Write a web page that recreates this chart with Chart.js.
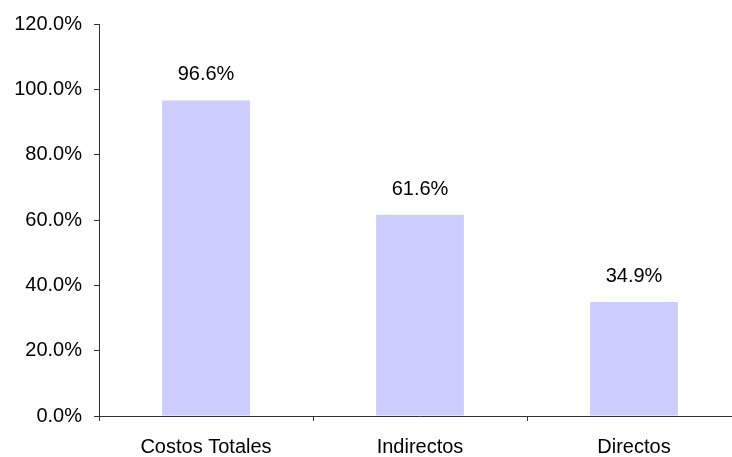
<!DOCTYPE html>
<html>
<head>
<meta charset="utf-8">
<script src="https://cdn.jsdelivr.net/npm/chart.js@4"></script>
<style>
  body { margin: 0; background: #fff; overflow: hidden; }
  #wrap { width: 741px; height: 457px; }
</style>
</head>
<body>
<div id="wrap"><canvas id="costs-chart"></canvas></div>
<script>
const categories = ['Costos Totales', 'Indirectos', 'Directos'];
const percentages = [96.6, 61.6, 34.9];

const barColor = '#CCCCFF';
const axisColor = '#333333';
const fontFamily = "'Liberation Sans', Arial, sans-serif";
const fontSize = 20;

const fmt = (v) => v.toFixed(1) + '%';

// writes each bar's value above it
const valueLabels = {
    id: 'valueLabels',
    afterDatasetsDraw(chart) {
        const ctx = chart.ctx;
        const meta = chart.getDatasetMeta(0);
        ctx.save();
        ctx.font = fontSize + 'px ' + fontFamily;
        ctx.fillStyle = '#000';
        ctx.textAlign = 'center';
        ctx.textBaseline = 'alphabetic';
        meta.data.forEach((bar, i) => {
            ctx.fillText(fmt(percentages[i]), bar.x, bar.y - 20);
        });
        ctx.restore();
    }
};

const context = document.getElementById('costs-chart').getContext('2d');

const chart = new Chart(context, {
    type: 'bar',
    data: {
        labels: categories,
        datasets: [{
            data: percentages,
            backgroundColor: barColor,
            borderWidth: 0,
            categoryPercentage: 0.41,
            barPercentage: 1
        }]
    },
    options: {
        responsive: true,
        maintainAspectRatio: false,
        animation: false,
        layout: { padding: { top: 12, right: 0, left: 0, bottom: 0 } },
        plugins: {
            legend: { display: false },
            tooltip: { enabled: false }
        },
        scales: {
            x: {
                offset: true,
                grid: { display: true, offset: true, drawOnChartArea: false, tickLength: 5, color: axisColor },
                border: { display: true, color: axisColor, width: 1 },
                ticks: { color: '#000', font: { family: fontFamily, size: fontSize }, padding: 14 },
                afterFit: (scale) => { scale.height = 41; }
            },
            y: {
                min: 0,
                max: 120,
                grid: { display: true, drawOnChartArea: false, tickLength: 5, color: axisColor },
                border: { display: true, color: axisColor, width: 1 },
                ticks: {
                    stepSize: 20,
                    color: '#000',
                    font: { family: fontFamily, size: fontSize },
                    padding: 12,
                    callback: (v) => fmt(v)
                },
                afterFit: (scale) => { scale.width = 99; }
            }
        }
    },
    plugins: [valueLabels]
});
</script>
</body>
</html>
